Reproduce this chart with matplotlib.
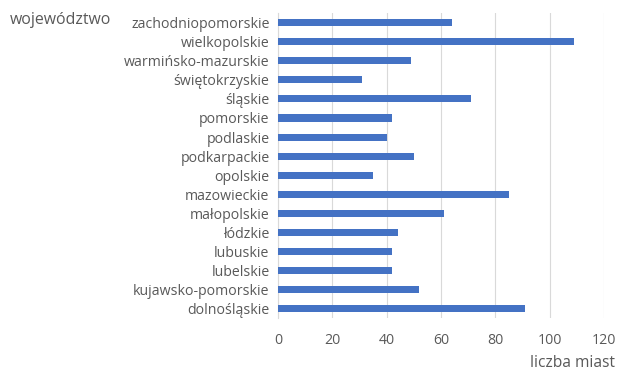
import matplotlib.pyplot as plt
import numpy as np

# voivodeships, top to bottom as in the chart
voivodeships = ['zachodniopomorskie', 'wielkopolskie', 'warmińsko-mazurskie',
                'świętokrzyskie', 'śląskie', 'pomorskie', 'podlaskie',
                'podkarpackie', 'opolskie', 'mazowieckie', 'małopolskie',
                'łódzkie', 'lubuskie', 'lubelskie', 'kujawsko-pomorskie',
                'dolnośląskie']
towns = [64, 109, 49, 31, 71, 42, 40, 50, 35, 85, 61, 44, 42, 42, 52, 91]
x_ticks = [0, 20, 40, 60, 80, 100, 120]

text_color = '#595959'
plt.rcParams['font.family'] = ['Open Sans', 'DejaVu Sans']

fig = plt.figure(figsize=(6.26, 3.87), dpi=100)
ax = fig.add_axes([0.444, 0.178, 0.521, 0.788])

pos = np.arange(len(voivodeships))
ax.barh(pos, towns, height=0.37, color='#4472C4', zorder=3)

ax.set_xlim(0, 120)
ax.set_ylim(len(voivodeships) - 0.5, -0.5)
ax.set_xticks(x_ticks)
ax.set_yticks(pos)
ax.set_yticklabels(voivodeships)
ax.tick_params(axis='both', length=0, colors=text_color, labelsize=10.2)
ax.tick_params(axis='x', pad=11)
ax.tick_params(axis='y', pad=6)

ax.grid(axis='x', color='#D9D9D9', linewidth=0.8, zorder=0)
for side in ['top', 'right', 'bottom']:
    ax.spines[side].set_visible(False)
ax.spines['left'].set_color('#D9D9D9')

fig.text(0.982, 0.062, 'liczba miast', ha='right', va='center',
         color=text_color, fontsize=11.2)
fig.text(0.016, 0.948, 'województwo', ha='left', va='center',
         color=text_color, fontsize=11.4)

fig.savefig('out.png', dpi=100)
